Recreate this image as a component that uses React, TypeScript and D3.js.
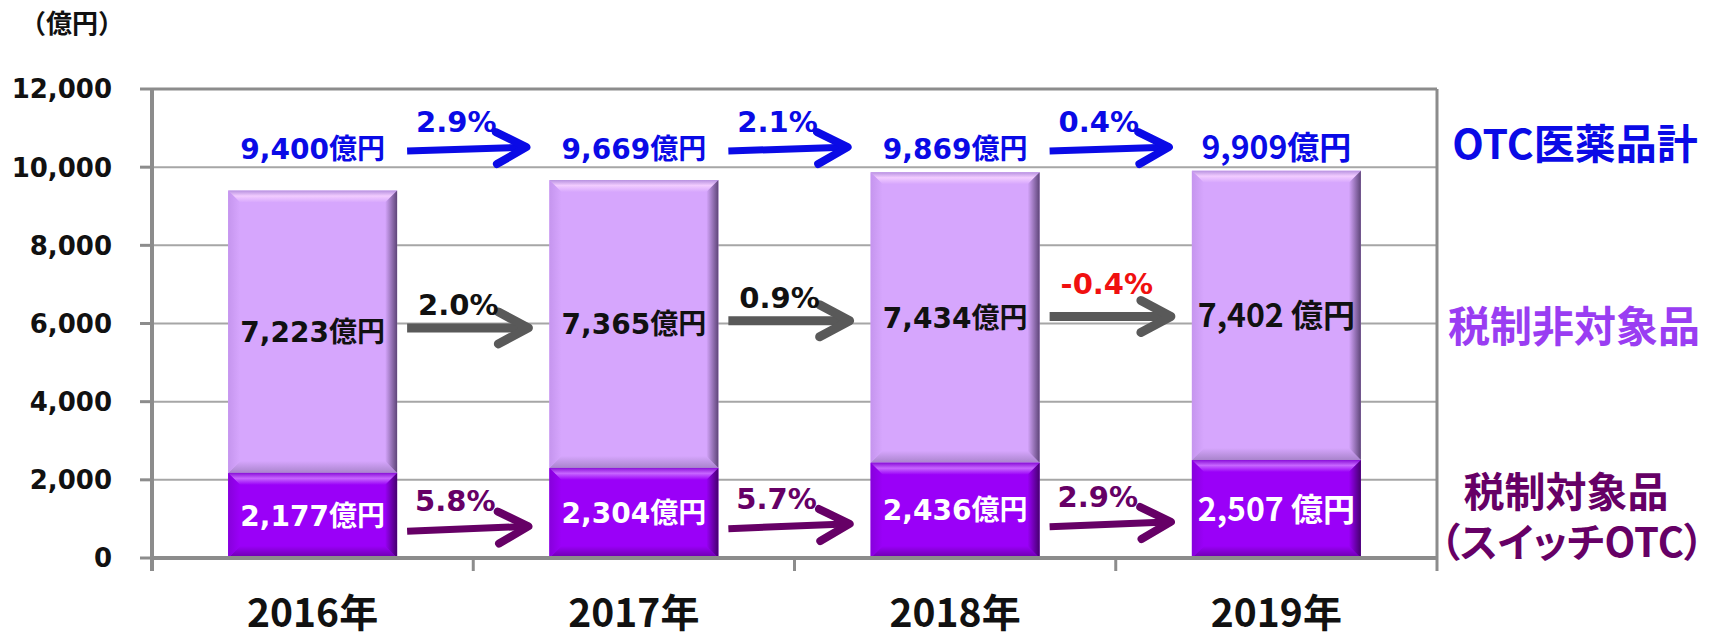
import React from "react";
import * as d3 from "d3";

const years = ["2016年", "2017年", "2018年", "2019年"];
const taxTarget = [2177, 2304, 2436, 2507]; // 税制対象品（スイッチOTC）
const nonTarget = [7223, 7365, 7434, 7402]; // 税制非対象品
const totals = [9400, 9669, 9869, 9909]; // OTC医薬品計
const totalGrowth = ["2.9%", "2.1%", "0.4%"];
const nonTargetGrowth = ["2.0%", "0.9%", "-0.4%"];
const targetGrowth = ["5.8%", "5.7%", "2.9%"];
const yTicks = [0, 2000, 4000, 6000, 8000, 10000, 12000];
const unitLabel = "（億円）";
const seriesNames = ["OTC医薬品計", "税制非対象品", "税制対象品", "（スイッチOTC）"];

const W = 1721;
const H = 637;
const M = { left: 152, right: 1437, top: 89, bottom: 558 };

const LATIN = "'DejaVu Sans', 'Noto Sans CJK JP', sans-serif";
const CJK = "'Noto Sans CJK JP', 'Noto Sans', sans-serif";

const BLUE = "#0A0AE6";
const GRAY = "#595959";
const PURPLE_DARK = "#660066";
const LEGEND_PURPLE = "#9A3DF2";
const RED = "#F01010";

const fmt = d3.format(",");

type BevelProps = { x: number; y0: number; y1: number; w: number; id: string; base: string };

function Bevel({ x, y0, y1, w, id, base }: BevelProps) {
  const h = y1 - y0;
  const b = Math.min(12, h / 2);
  const pts = (arr: number[][]) => arr.map((p) => p.join(",")).join(" ");
  return (
    <g>
      <rect x={x} y={y0} width={w} height={h} fill={base} />
      <polygon
        points={pts([[x, y0], [x + w, y0], [x + w - b, y0 + b], [x + b, y0 + b]])}
        fill={`url(#${id}-top)`}
      />
      <polygon
        points={pts([[x, y1], [x + w, y1], [x + w - b, y1 - b], [x + b, y1 - b]])}
        fill={`url(#${id}-bottom)`}
      />
      <polygon
        points={pts([[x, y0], [x + b, y0 + b], [x + b, y1 - b], [x, y1]])}
        fill={`url(#${id}-left)`}
      />
      <polygon
        points={pts([[x + w, y0], [x + w - b, y0 + b], [x + w - b, y1 - b], [x + w, y1]])}
        fill={`url(#${id}-right)`}
      />
    </g>
  );
}

function BevelDefs({ id, edge, hi, base, dark, left, bottom }: any) {
  return (
    <>
      <linearGradient id={`${id}-top`} x1="0" y1="0" x2="0" y2="1">
        <stop offset="0" stopColor={edge} />
        <stop offset="0.45" stopColor={hi} />
        <stop offset="1" stopColor={base} />
      </linearGradient>
      <linearGradient id={`${id}-bottom`} x1="0" y1="0" x2="0" y2="1">
        <stop offset="0" stopColor={base} />
        <stop offset="1" stopColor={bottom} />
      </linearGradient>
      <linearGradient id={`${id}-left`} x1="0" y1="0" x2="1" y2="0">
        <stop offset="0" stopColor={left} />
        <stop offset="1" stopColor={base} />
      </linearGradient>
      <linearGradient id={`${id}-right`} x1="0" y1="0" x2="1" y2="0">
        <stop offset="0" stopColor={base} />
        <stop offset="1" stopColor={dark} />
      </linearGradient>
    </>
  );
}

type ArrowProps = {
  x1: number; y1: number; x2: number; y2: number;
  color: string; sw: number; hw: number; hl: number; headSw: number;
};

function Arrow({ x1, y1, x2, y2, color, sw, hw, hl, headSw }: ArrowProps) {
  const dx = x2 - x1;
  const dy = y2 - y1;
  const len = Math.hypot(dx, dy);
  const ux = dx / len;
  const uy = dy / len;
  const nx = -uy;
  const ny = ux;
  const tx = x2 - ux * 3;
  const ty = y2 - uy * 3;
  const a = [tx - ux * hl + nx * hw, ty - uy * hl + ny * hw];
  const c = [tx - ux * hl - nx * hw, ty - uy * hl - ny * hw];
  return (
    <g>
      <line x1={x1} y1={y1} x2={tx - ux * 4} y2={ty - uy * 4} stroke={color} strokeWidth={sw} />
      <polyline
        points={`${a[0]},${a[1]} ${tx},${ty} ${c[0]},${c[1]}`}
        fill="none"
        stroke={color}
        strokeWidth={headSw}
        strokeLinecap="round"
        strokeLinejoin="round"
      />
    </g>
  );
}

export default function App() {
  const x = d3
    .scaleBand<string>()
    .domain(years)
    .range([M.left, M.right])
    .paddingInner(0.474)
    .paddingOuter(0.237);
  const y = d3.scaleLinear().domain([0, 12000]).range([M.bottom, M.top]);
  const bw = x.bandwidth();
  const step = x.step();
  const boundaries = d3.range(years.length + 1).map((i) => M.left + i * step);

  const lightMid = years.map((_, i) => (y(taxTarget[i]) + y(taxTarget[i] + nonTarget[i])) / 2);
  const darkMid = years.map((_, i) => (y(0) + y(taxTarget[i])) / 2);

  const totalY = 159;

  return (
    <svg
      width={W}
      height={H}
      viewBox={`0 0 ${W} ${H}`}
      style={{ position: "absolute", left: 0, top: 0, background: "#fff" }}
    >
      <defs>
        <BevelDefs id="light" edge="#B892E0" hi="#F2CCFF" base="#D6A6FD" dark="#5E4578" left="#C595EE" bottom="#A984CC" />
        <BevelDefs id="dark" edge="#8A10D8" hi="#C766FF" base="#9A00F8" dark="#45006E" left="#8700DC" bottom="#6A00AA" />
      </defs>

      {/* unit label */}
      <text x={20} y={33} fontFamily={CJK} fontWeight={700} fontSize={26} fill="#111">
        {unitLabel}
      </text>

      {/* gridlines */}
      {yTicks
        .filter((t) => t > 0 && t < 12000)
        .map((t) => (
          <line key={t} x1={M.left} x2={M.right} y1={y(t)} y2={y(t)} stroke="#A6A6A6" strokeWidth={2} />
        ))}
      {/* plot border top & right */}
      <line x1={M.left} x2={M.right} y1={y(12000)} y2={y(12000)} stroke="#8C8C8C" strokeWidth={3} />
      <line x1={M.right} x2={M.right} y1={M.top} y2={M.bottom} stroke="#8C8C8C" strokeWidth={3} />

      {/* y axis */}
      <line x1={M.left} x2={M.left} y1={M.top - 1} y2={M.bottom + 13} stroke="#8C8C8C" strokeWidth={4} />
      {yTicks.map((t) => (
        <g key={t}>
          <line x1={M.left - 12} x2={M.left} y1={y(t)} y2={y(t)} stroke="#8C8C8C" strokeWidth={3} />
          <text
            x={112}
            y={y(t)}
            dy="0.36em"
            textAnchor="end"
            fontFamily={LATIN}
            fontWeight={700}
            fontSize={26}
            fill="#111"
          >
            {fmt(t)}
          </text>
        </g>
      ))}

      {/* bars */}
      {years.map((yr, i) => {
        const x0 = x(yr)!;
        return (
          <g key={yr}>
            <Bevel x={x0} y0={y(taxTarget[i] + nonTarget[i])} y1={y(taxTarget[i])} w={bw} id="light" base="#D6A6FD" />
            <Bevel x={x0} y0={y(taxTarget[i])} y1={y(0)} w={bw} id="dark" base="#9A00F8" />
          </g>
        );
      })}

      {/* x axis */}
      <line x1={M.left} x2={M.right} y1={M.bottom} y2={M.bottom} stroke="#8C8C8C" strokeWidth={4} />
      {boundaries.map((bx, i) => (
        <line key={i} x1={bx} x2={bx} y1={M.bottom} y2={M.bottom + 13} stroke="#8C8C8C" strokeWidth={3} />
      ))}
      {years.map((yr) => (
        <text
          key={yr}
          x={x(yr)! + bw / 2}
          y={627}
          textAnchor="middle"
          fontFamily={CJK}
          fontWeight={700}
          fontSize={39}
          fill="#111"
        >
          {yr}
        </text>
      ))}

      {/* value labels */}
      {years.map((yr, i) => {
        const cx = x(yr)! + bw / 2;
        const last = i === years.length - 1;
        const fam = last ? CJK : LATIN;
        const fs = last ? 32 : 28;
        const sep = last ? " " : "";
        return (
          <g key={yr} fontFamily={fam} fontWeight={700} fontSize={fs} textAnchor="middle">
            <text x={cx} y={totalY} fill={BLUE}>
              {fmt(totals[i])}億円
            </text>
            <text x={cx} y={lightMid[i]} dy="0.36em" fill="#111">
              {fmt(nonTarget[i])}
              {sep}億円
            </text>
            <text x={cx} y={darkMid[i]} dy="0.36em" fill="#fff">
              {fmt(taxTarget[i])}
              {sep}億円
            </text>
          </g>
        );
      })}

      {/* growth arrows */}
      {totalGrowth.map((g, i) => {
        const x1 = x(years[i])! + bw + 10;
        const x2 = x(years[i + 1])! - 20;
        const yb = totalY - 10;
        return (
          <g key={"t" + i}>
            <Arrow x1={x1} y1={yb + 2} x2={x2} y2={yb - 2} color={BLUE} sw={7} hw={16} hl={30} headSw={8} />
            <text x={x1 + 9} y={yb - 17} fontFamily={LATIN} fontWeight={700} fontSize={29} fill={BLUE}>
              {g}
            </text>
          </g>
        );
      })}
      {nonTargetGrowth.map((g, i) => {
        const x1 = x(years[i])! + bw + 10;
        const x2 = x(years[i + 1])! - 18;
        const yb = (lightMid[i] + lightMid[i + 1]) / 2;
        const neg = g.startsWith("-");
        return (
          <g key={"n" + i}>
            <Arrow x1={x1} y1={yb} x2={x2} y2={yb} color={GRAY} sw={9} hw={16} hl={30} headSw={9} />
            <text
              x={x1 + 11}
              y={yb - (neg ? 22 : 13)}
              fontFamily={LATIN}
              fontWeight={700}
              fontSize={29}
              fill={neg ? RED : "#111"}
            >
              {g}
            </text>
          </g>
        );
      })}
      {targetGrowth.map((g, i) => {
        const x1 = x(years[i])! + bw + 10;
        const x2 = x(years[i + 1])! - 18;
        const yb = (darkMid[i] + darkMid[i + 1]) / 2 + 15;
        return (
          <g key={"d" + i}>
            <Arrow x1={x1} y1={yb + 2} x2={x2} y2={yb - 3} color={PURPLE_DARK} sw={7} hw={16} hl={30} headSw={8} />
            <text x={x1 + 8} y={yb - 18} fontFamily={LATIN} fontWeight={700} fontSize={29} fill={PURPLE_DARK}>
              {g}
            </text>
          </g>
        );
      })}

      {/* series labels on the right */}
      <g fontFamily={CJK} fontWeight={700} textAnchor="middle">
        <text x={1575} y={159} fontSize={41} fill={BLUE}>
          {seriesNames[0]}
        </text>
        <text x={1574} y={342} fontSize={42} fill={LEGEND_PURPLE}>
          {seriesNames[1]}
        </text>
        <text x={1566} y={507} fontSize={41} fill={PURPLE_DARK}>
          {seriesNames[2]}
        </text>
        <text x={1572} y={557} fontSize={40} fill={PURPLE_DARK} style={{ fontFeatureSettings: '"palt"' }}>
          {seriesNames[3]}
        </text>
      </g>
    </svg>
  );
}
